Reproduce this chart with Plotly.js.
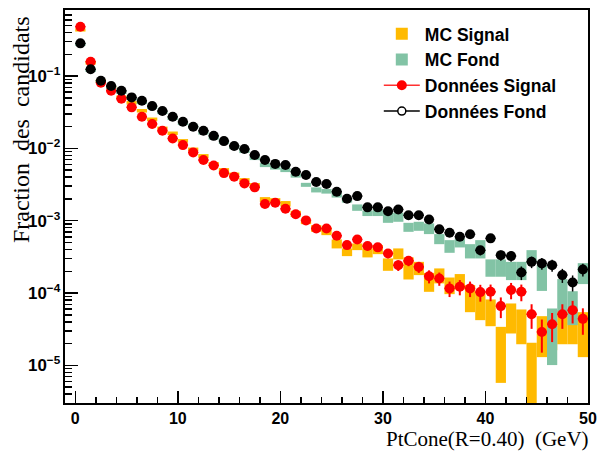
<!DOCTYPE html>
<html>
<head>
<meta charset="utf-8">
<script src="https://cdn.plot.ly/plotly-3.0.1.min.js"></script>
<style>html,body{margin:0;padding:0;background:#fff;}#chart{width:598px;height:452px;}</style>
</head>
<body>
<div id="chart"></div>
<script>
// Bin centres (PtCone, GeV), bin width 1
var binCenters = [0.5,1.5,2.5,3.5,4.5,5.5,6.5,7.5,8.5,9.5,10.5,11.5,12.5,13.5,14.5,15.5,16.5,17.5,18.5,19.5,
  20.5,21.5,22.5,23.5,24.5,25.5,26.5,27.5,28.5,29.5,30.5,31.5,32.5,33.5,34.5,35.5,36.5,37.5,38.5,39.5,
  40.5,41.5,42.5,43.5,44.5,45.5,46.5,47.5,48.5,49.5];

// MC Signal band (low / high edges)
var mcSignalLow = [0.412,0.144,0.0813,0.0661,0.0488,0.0403,0.0313,0.0238,0.0179,0.0153,
  0.0120,0.00918,0.00734,0.00569,0.00470,0.00407,0.00342,0.00287,0.00181,0.00178,
  0.00157,0.00113,0.000897,0.000702,0.000632,0.000414,0.000324,0.000392,0.000311,0.000345,
  0.000203,0.000292,0.000154,0.000177,0.000104,0.000136,0.0000966,0.000112,0.0000544,0.0000422,
  0.0000348,0.00000573,0.0000276,0.0000196,0.0000001,0.0000130,0.0000162,0.0000196,0.0000196,0.0000130];
var mcSignalHigh = [0.454,0.161,0.0895,0.0727,0.0537,0.0451,0.0350,0.0267,0.0200,0.0171,
  0.01345,0.01026,0.00834,0.00646,0.00534,0.00463,0.00388,0.00331,0.00212,0.00205,
  0.00187,0.00137,0.00104,0.000869,0.000808,0.000551,0.000414,0.000485,0.000414,0.000460,
  0.000301,0.000414,0.000311,0.000270,0.000190,0.000219,0.000164,0.000183,0.000129,0.000103,
  0.0000815,0.0000341,0.0000718,0.0000593,0.0000205,0.0000479,0.0000450,0.0000580,0.0000580,0.0000544];

// MC Fond band (low / high edges)
var mcFondLow = [0.260,0.1136,0.0800,0.0661,0.0564,0.0466,0.0410,0.0350,0.0298,0.0246,
  0.0210,0.0188,0.0155,0.01323,0.01147,0.00978,0.00861,0.00689,0.00551,0.00509,
  0.00470,0.00394,0.00294,0.00246,0.00237,0.00209,0.00178,0.00137,0.00116,0.00116,
  0.000935,0.000966,0.000702,0.000725,0.000653,0.000474,0.000360,0.000427,0.000301,0.000301,
  0.000168,0.000168,0.000151,0.000151,0.000263,0.000107,0.0000101,0.0000544,0.0000360,0.000133];
var mcFondHigh = [0.286,0.125,0.0880,0.0727,0.0620,0.0512,0.0451,0.0385,0.0328,0.0271,
  0.0231,0.0213,0.0176,0.01503,0.01302,0.01111,0.00978,0.00782,0.00626,0.00578,
  0.00534,0.00448,0.00334,0.00289,0.00274,0.00241,0.00205,0.00168,0.00137,0.00145,
  0.00133,0.00129,0.000935,0.000966,0.000918,0.000653,0.000539,0.000569,0.000474,0.000539,
  0.000292,0.000292,0.000270,0.000270,0.000392,0.000243,0.0000612,0.000156,0.000106,0.000259];

// Données Signal
var dataSignal = [0.481,0.158,0.081,0.0626,0.0485,0.0369,0.0273,0.0217,0.0175,0.0137,
  0.0111,0.0088,0.0069,0.0058,0.00455,0.00405,0.00328,0.00289,0.0017,0.00177,
  0.00146,0.00123,0.00101,0.00078,0.00078,0.00062,0.00046,0.00055,0.000446,0.000428,
  0.000353,0.000243,0.000279,0.00023,0.000171,0.000159,0.000116,0.000122,0.000116,0.000103,
  0.000104,0.000066,0.00011,0.000104,0.000051,0.000029,0.000037,0.000051,0.000058,0.000044];
var dataSignalErr = [0.0018,0.00105,0.00075,0.00066,0.00058,0.00051,0.00044,0.00039,0.00035,0.00031,
  0.00028,0.00025,0.00022,0.00020,0.00018,0.00017,0.00015,0.00014,0.00011,0.00011,
  0.00010,0.000093,0.000084,0.000074,0.000074,0.000066,0.000057,0.000062,0.000056,0.000055,
  0.000050,0.000041,0.000044,0.000040,0.000035,0.000033,0.000028,0.000029,0.000028,0.000027,
  0.000027,0.000021,0.000028,0.000027,0.000019,0.000014,0.000016,0.000019,0.000020,0.0000175];

// Données Fond
var dataFond = [0.283,0.124,0.086,0.0727,0.0626,0.0507,0.0455,0.0384,0.0328,0.0273,
  0.0233,0.0199,0.0175,0.0149,0.0126,0.0108,0.0098,0.0081,0.0069,0.0061,
  0.0059,0.00475,0.00428,0.00342,0.00321,0.00251,0.00201,0.00219,0.00153,0.00153,
  0.00135,0.00143,0.00119,0.00119,0.00104,0.00076,0.00068,0.0006,0.00065,0.00039,
  0.00057,0.000334,0.000324,0.000192,0.00027,0.000257,0.000243,0.000177,0.00014,0.000212];
var dataFondErr = [0.00157,0.00104,0.00087,0.0008,0.00074,0.00067,0.00063,0.00058,0.00054,0.00049,
  0.00045,0.00042,0.00039,0.00036,0.00033,0.00031,0.00029,0.00027,0.00025,0.00023,
  0.00023,0.0002,0.00019,0.00017,0.00017,0.00015,0.00013,0.00014,0.00012,0.00012,
  0.00011,0.00011,0.0001,0.0001,0.000095,0.000082,0.000077,0.000072,0.000075,0.000058,
  0.000071,0.000054,0.000053,0.000041,0.000049,0.000047,0.000046,0.000039,0.000035,0.000043];

var legendLabels = ['MC Signal','MC Fond','Données Signal','Données Fond'];
var xTitle = 'PtCone(R=0.40)\u00a0\u00a0(GeV)';
var yTitle = 'Fraction\u00a0\u00a0des\u00a0\u00a0candidats';

function span(lo, hi){ return hi.map(function(h,i){ return h - lo[i]; }); }

var traces = [
  {type:'bar', x:binCenters, base:mcSignalLow, y:span(mcSignalLow, mcSignalHigh), width:1,
   name:legendLabels[0], marker:{color:'#FFBA00', line:{width:0}}, hoverinfo:'skip'},
  {type:'bar', x:binCenters, base:mcFondLow, y:span(mcFondLow, mcFondHigh), width:1,
   name:legendLabels[1], marker:{color:'#82C3A5', line:{width:0}}, hoverinfo:'skip'},
  {type:'scatter', mode:'markers', x:binCenters, y:dataSignal, showlegend:false,
   marker:{color:'#FF0000', size:10},
   error_y:{type:'data', array:dataSignalErr, color:'#FF0000', thickness:2, width:0},
   error_x:{type:'constant', value:0.5, color:'#FF0000', thickness:1.5, width:0}},
  {type:'scatter', mode:'markers', x:binCenters, y:dataFond, showlegend:false,
   marker:{color:'#000000', size:10},
   error_y:{type:'data', array:dataFondErr, color:'#000000', thickness:1.5, width:0},
   error_x:{type:'constant', value:0.5, color:'#000000', thickness:1.5, width:0}},
  {type:'scatter', mode:'lines+markers', x:[null], y:[null], name:legendLabels[2],
   line:{color:'#FF3030', width:1.5}, marker:{color:'#FF0000', size:10}},
  {type:'scatter', mode:'lines+markers', x:[null], y:[null], name:legendLabels[3],
   line:{color:'#000000', width:1.5}, marker:{color:'#FFFFFF', size:8, line:{color:'#000000', width:1.5}}}
];

var layout = {
  width:598, height:452,
  margin:{l:65, r:10, t:10, b:49},
  paper_bgcolor:'#FFFFFF', plot_bgcolor:'#FFFFFF',
  barmode:'overlay',
  showlegend:true,
  legend:{x:0.6, y:0.985, xanchor:'left', yanchor:'top', bgcolor:'rgba(0,0,0,0)', borderwidth:0,
    itemwidth:36, traceorder:'normal',
    font:{family:'Liberation Sans, Arial, sans-serif', size:17.5, weight:'bold', color:'#000000'}},
  xaxis:{range:[-1,50], tick0:0, dtick:10, ticks:'inside', ticklen:12, tickwidth:1.5, tickcolor:'#000',
    minor:{dtick:2, ticks:'inside', ticklen:6, tickwidth:1.5, tickcolor:'#000', showgrid:false},
    showline:true, linewidth:2, linecolor:'#000', mirror:true, showgrid:false, zeroline:false,
    tickfont:{family:'Liberation Sans, Arial, sans-serif', size:16, weight:'bold', color:'#000'}},
  yaxis:{type:'log', range:[-5.52,-0.087], dtick:1, exponentformat:'power',
    ticks:'inside', ticklen:13, tickwidth:1.5, tickcolor:'#000',
    minor:{dtick:'D1', ticks:'inside', ticklen:7, tickwidth:1.5, tickcolor:'#000', showgrid:false},
    showline:true, linewidth:2, linecolor:'#000', mirror:true, showgrid:false, zeroline:false,
    tickfont:{family:'Liberation Sans, Arial, sans-serif', size:13.5, weight:'bold', color:'#000'}},
  annotations:[
    {text:xTitle, xref:'paper', yref:'paper', x:1.006, y:-0.092, xanchor:'right', yanchor:'middle',
     showarrow:false, font:{family:'Liberation Serif, Times New Roman, serif', size:21, color:'#000'}},
    {text:yTitle, xref:'paper', yref:'paper', x:-0.083, y:0.99, xanchor:'center', yanchor:'top',
     textangle:-90, showarrow:false, font:{family:'Liberation Serif, Times New Roman, serif', size:24, color:'#000'}}
  ]
};

Plotly.newPlot('chart', traces, layout, {staticPlot:true, displayModeBar:false});
</script>
</body>
</html>
